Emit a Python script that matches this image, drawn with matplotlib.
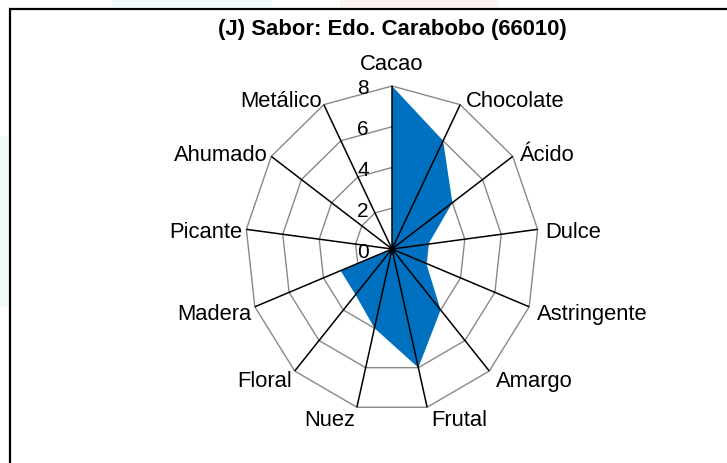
import numpy as np
import matplotlib.pyplot as plt
from matplotlib.patches import Rectangle

plt.rcParams['font.family'] = ['Liberation Sans', 'DejaVu Sans']

# sensory profile, one value per attribute (clockwise from the top)
categories = ['Cacao', 'Chocolate', 'Ácido', 'Dulce', 'Astringente', 'Amargo',
              'Frutal', 'Nuez', 'Floral', 'Madera', 'Picante', 'Ahumado', 'Metálico']
values = [8, 6, 4, 2, 2, 4, 6, 4, 3, 3, 0, 0, 0]
ticks = [0, 2, 4, 6, 8]
title = '(J) Sabor: Edo. Carabobo (66010)'

W, H = 727, 464
cx, cy = 392, 250          # pixel position of the centre
rmax = 8
sx_px = 146.7 / rmax       # pixels per unit, horizontal
sy_px = 163.0 / rmax       # pixels per unit, vertical

fig = plt.figure(figsize=(W / 100, H / 100), dpi=100)
ax = fig.add_axes([0, 0, 1, 1])
ax.set_xlim(-cx / sx_px, (W - cx) / sx_px)
ax.set_ylim(-(H - cy) / sy_px, cy / sy_px)
ax.axis('off')

# faint tints around the frame
for x0, y0, w, h, c in [(112, 0, 160, 8, '#effbfb'), (340, 0, 158, 8, '#fdf3f3'),
                        (0, 137, 8, 171, '#effbfb')]:
    fig.add_artist(Rectangle((x0 / W, 1 - (y0 + h) / H), w / W, h / H,
                             transform=fig.transFigure, color=c, lw=0))

# frame (right and bottom edges lie outside the image)
fig.add_artist(Rectangle((9.5 / W, -0.1), 2, 1.1 - 9.5 / H, transform=fig.transFigure,
                         fill=False, ec='black', lw=1.6))

n = len(categories)
ang = np.arange(n) * 2 * np.pi / n
sx, sy = np.sin(ang), np.cos(ang)

# grid rings
for t in ticks[1:]:
    ax.plot(np.append(t * sx, t * sx[0]), np.append(t * sy, t * sy[0]),
            color='#888888', lw=1.0, zorder=1)

# data area
v = np.array(values)
ax.fill(v * sx, v * sy, color='#0070C0', lw=0, zorder=2)

# spokes
for x, y in zip(sx, sy):
    ax.plot([0, rmax * x], [0, rmax * y], color='black', lw=1.1, zorder=3,
            solid_capstyle='butt')

# scale labels along the top spoke
for t in ticks:
    ax.text(-23 / sx_px, t - 2 / sy_px, str(t), ha='right', va='center',
            fontsize=15, zorder=4)

# attribute labels
fs = 15.8
for lab, x, y in zip(categories, sx, sy):
    px, py = rmax * x, rmax * y
    if abs(x) < 0.05:
        ax.text(px, py + 22 / sy_px, lab, ha='center', va='center', fontsize=fs)
        continue
    if x > 0:
        dx, ha = 3 + 5 * abs(x), 'left'
    else:
        dx, ha = -(1 + 3 * abs(x)), 'right'
    dy = -(3.3 - 8.9 * y)
    ax.text(px + dx / sx_px, py + dy / sy_px, lab, ha=ha, va='center', fontsize=fs)

fig.text(392 / W, 1 - 29 / H, title, ha='center', va='center', fontsize=15.9,
         fontweight='bold')

fig.savefig('out.png', dpi=100)
